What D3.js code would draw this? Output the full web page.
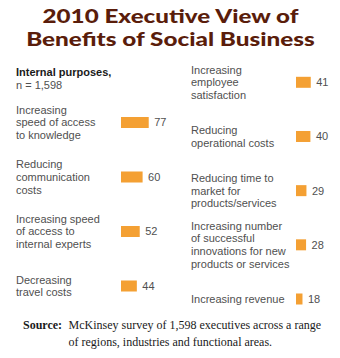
<!DOCTYPE html>
<html>
<head>
<meta charset="utf-8">
<script src="https://cdn.jsdelivr.net/npm/d3@7"></script>
<style>
  html, body { margin: 0; padding: 0; background: #fff; }
  svg { display: block; }
</style>
</head>
<body>
<svg id="chart" width="340" height="358"></svg>
<script>
// ---- data ----
const titleLines = ["2010 Executive View of", "Benefits of Social Business"];
const groupTitle = "Internal purposes,";
const groupSubtitle = "n = 1,598";

const leftCategories = [
  "Increasing\nspeed of access\nto knowledge",
  "Reducing\ncommunication\ncosts",
  "Increasing speed\nof access to\ninternal experts",
  "Decreasing\ntravel costs"
];
const leftValues = [77, 60, 52, 44];

const rightCategories = [
  "Increasing\nemployee\nsatisfaction",
  "Reducing\noperational costs",
  "Reducing time to\nmarket for\nproducts/services",
  "Increasing number\nof successful\ninnovations for new\nproducts or services",
  "Increasing revenue"
];
const rightValues = [41, 40, 29, 28, 18];

const sourceLabel = "Source:";
const sourceLines = [
  "McKinsey survey of 1,598 executives across a range",
  "of regions, industries and functional areas."
];

// ---- drawing ----
const svg = d3.select("#chart");
const orange = "#f4a033";
const labelColor = "#505050";
const lineH = 12.6;

// title (glyphs widened horizontally to mimic the wide humanist face)
const titleWidths = [256, 289];
svg.append("g").selectAll("text").data(titleLines).join("text")
  .attr("x", 0)
  .attr("y", 0)
  .attr("text-anchor", "middle")
  .attr("font-family", "Lato, 'Open Sans', sans-serif")
  .attr("font-weight", 900)
  .attr("font-size", 19)
  .attr("fill", "#5a1d0b")
  .text(d => d)
  .each(function (d, i) {
    const w = this.getComputedTextLength();
    const sx = titleWidths[i] / w;
    d3.select(this).attr("transform", `translate(${170.5},${23 + i * 23}) scale(${sx},1)`);
  });

// group heading
svg.append("text")
  .attr("x", 16).attr("y", 75.5)
  .attr("font-family", "'Liberation Sans', Arial, sans-serif")
  .attr("font-weight", "bold")
  .attr("font-size", 11)
  .attr("fill", "#1a1a1a")
  .text(groupTitle);
svg.append("text")
  .attr("x", 16).attr("y", 89)
  .attr("font-family", "'Liberation Sans', Arial, sans-serif")
  .attr("font-size", 11)
  .attr("fill", labelColor)
  .text(groupSubtitle);

const x = d3.scaleLinear().domain([0, 100]).range([0, 36]);

function drawColumn(cats, vals, labelX, barX, yRange) {
  const y = d3.scalePoint().domain(cats).range(yRange);
  const g = svg.append("g");
  const rows = g.selectAll("g.row").data(cats.map((c, i) => ({ c, v: vals[i] })))
    .join("g").attr("class", "row");

  rows.append("rect")
    .attr("x", barX)
    .attr("y", d => y(d.c) - 5.5)
    .attr("width", d => x(d.v))
    .attr("height", 11)
    .attr("fill", orange);

  rows.append("text")
    .attr("x", d => barX + x(d.v) + 5.5)
    .attr("y", d => y(d.c))
    .attr("dy", "0.36em")
    .attr("font-family", "'Liberation Sans', Arial, sans-serif")
    .attr("font-size", 11)
    .attr("fill", labelColor)
    .text(d => d.v);

  rows.each(function (d) {
    const lines = d.c.split("\n");
    const t = d3.select(this).append("text")
      .attr("font-family", "'Liberation Sans', Arial, sans-serif")
      .attr("font-size", 11)
      .attr("fill", labelColor);
    const y0 = y(d.c) - (lines.length - 1) * lineH / 2;
    t.selectAll("tspan").data(lines).join("tspan")
      .attr("x", labelX)
      .attr("y", (l, i) => y0 + i * lineH)
      .attr("dy", "0.36em")
      .text(l => l);
  });
}

drawColumn(leftCategories, leftValues, 16, 121, [122.5, 286]);
drawColumn(rightCategories, rightValues, 191, 296, [82.3, 299]);

// source
const src = svg.append("g")
  .attr("font-family", "'Liberation Serif', 'Times New Roman', serif")
  .attr("font-size", 12)
  .attr("fill", "#1a1a1a");
src.append("text")
  .attr("x", 23).attr("y", 329)
  .attr("font-weight", "bold")
  .text(sourceLabel);
src.selectAll("text.line").data(sourceLines).join("text")
  .attr("class", "line")
  .attr("x", 68.5)
  .attr("y", (d, i) => 329 + i * 17)
  .text(d => d);
</script>
</body>
</html>
